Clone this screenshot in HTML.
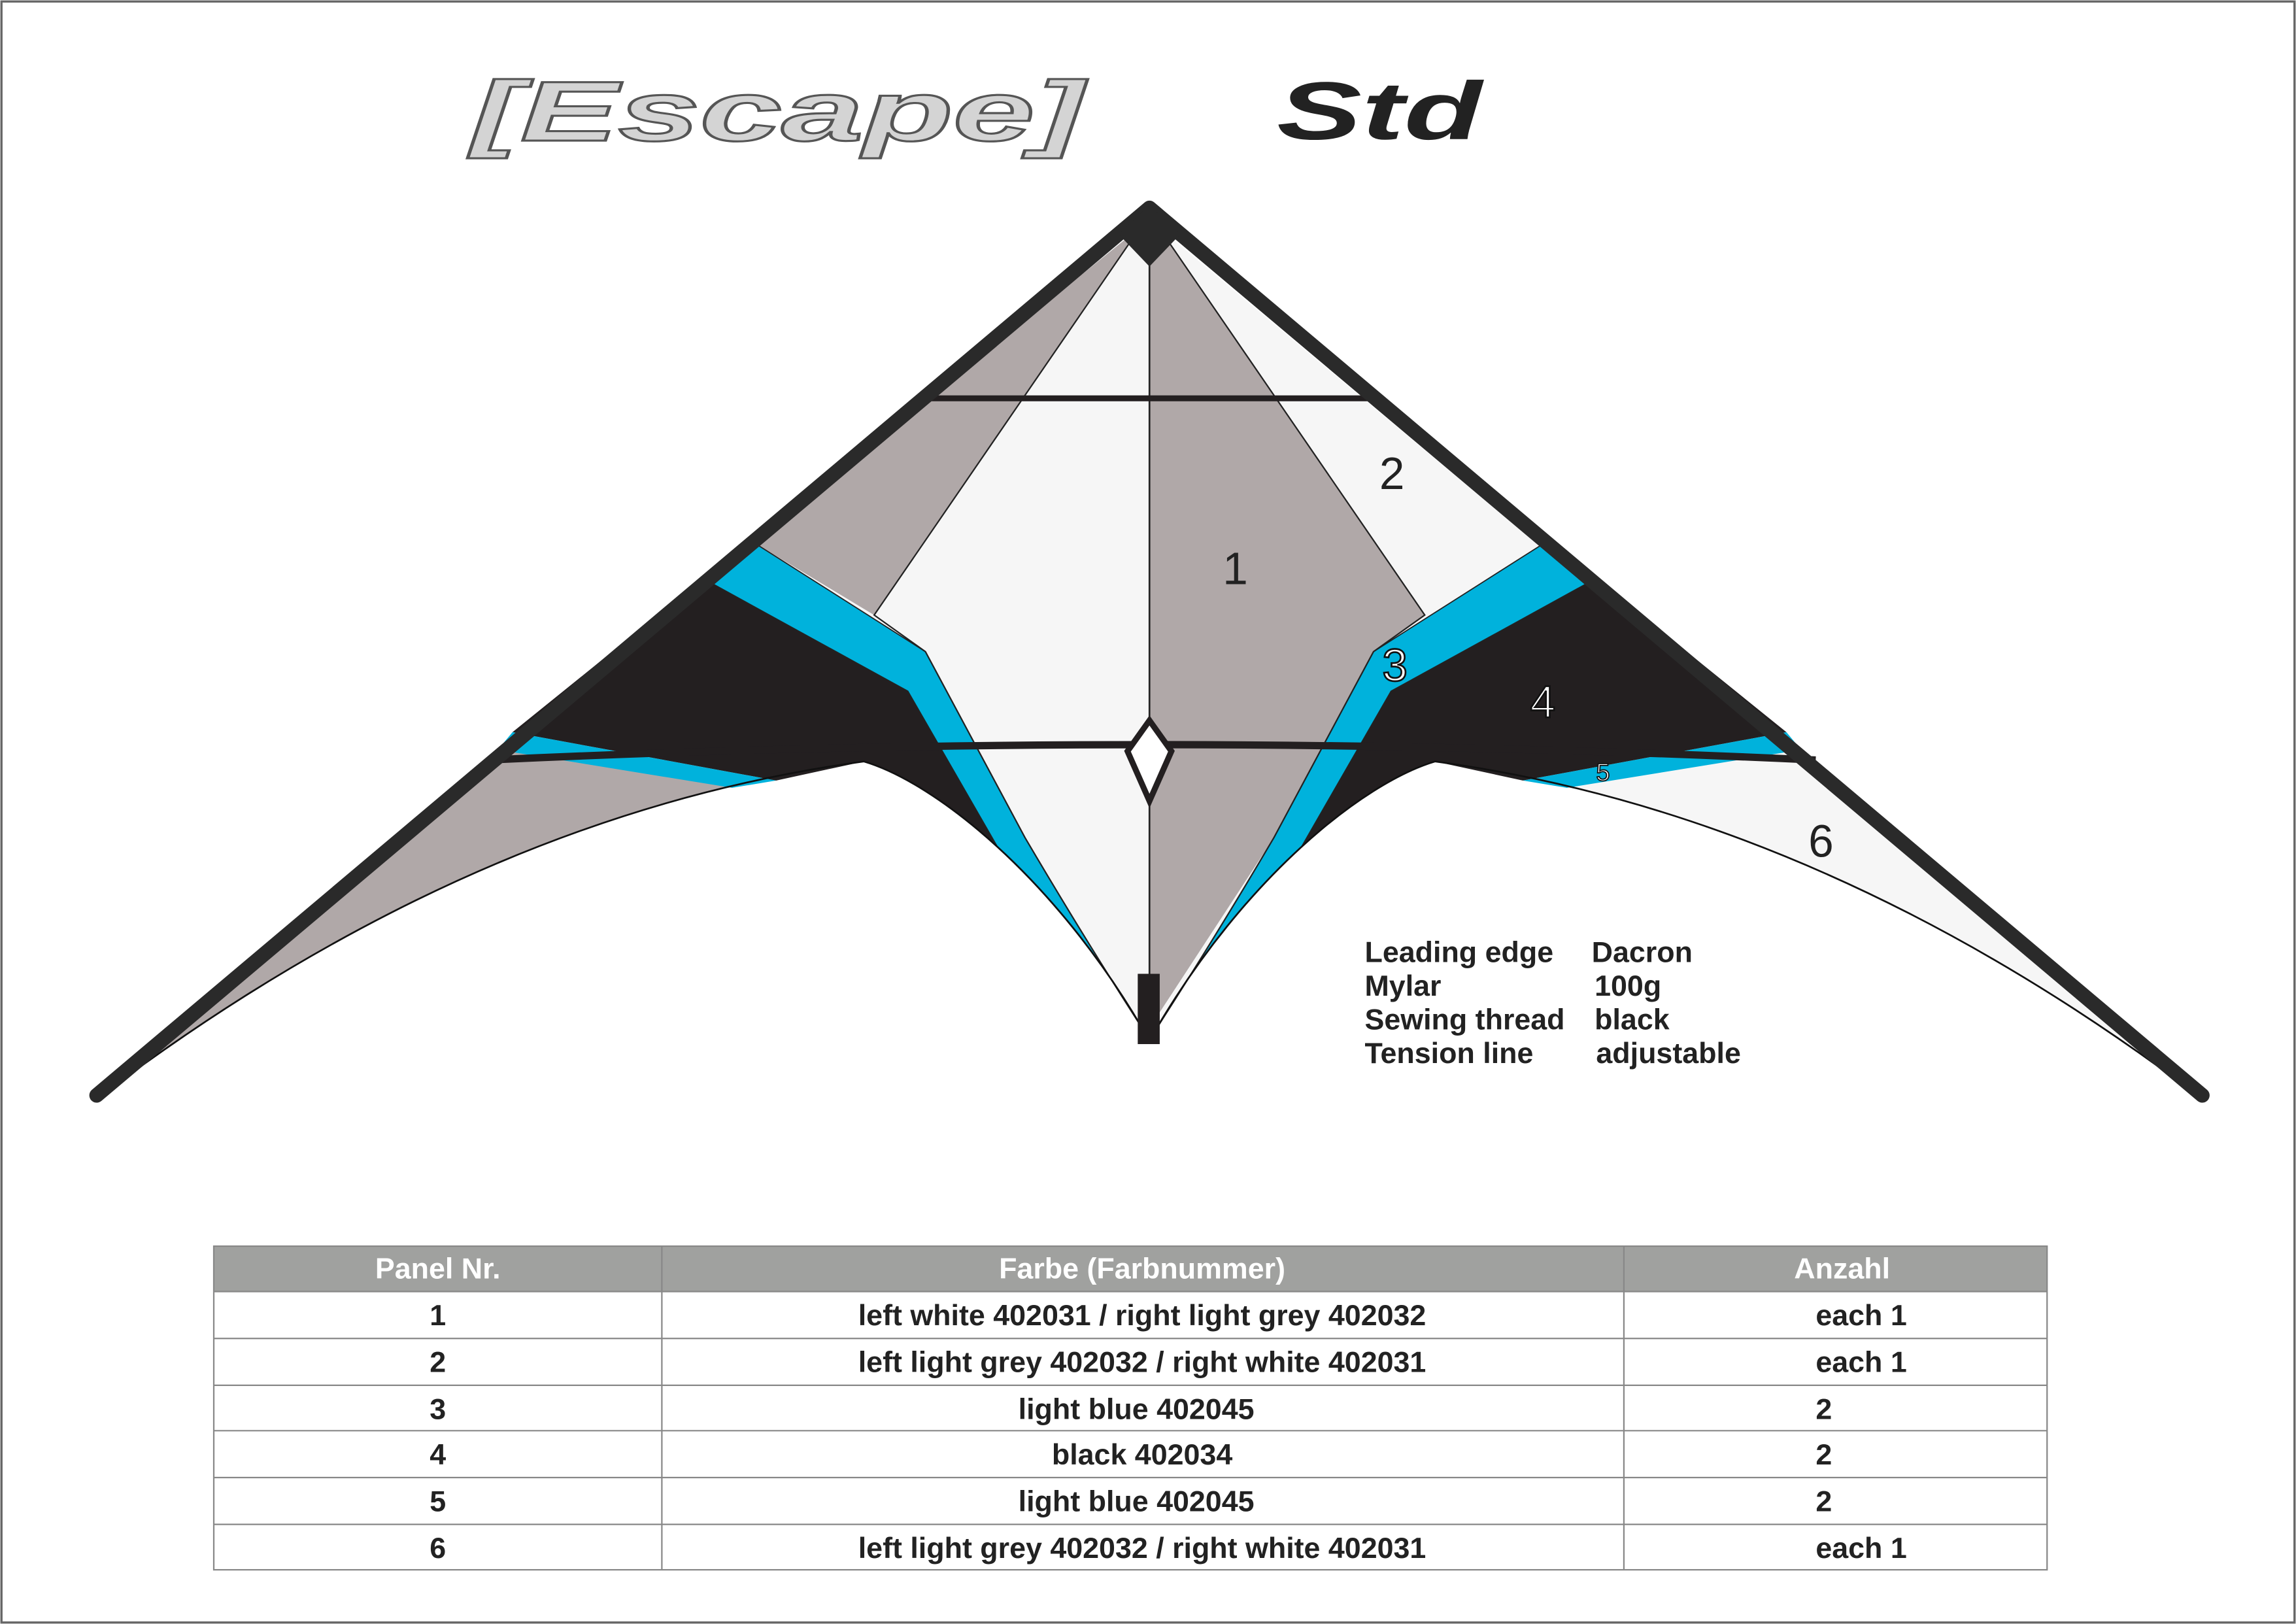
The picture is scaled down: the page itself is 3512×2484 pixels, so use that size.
<!DOCTYPE html>
<html><head><meta charset="utf-8">
<style>
html,body{margin:0;padding:0;background:#fff;}
svg{display:block;}
text{font-family:"Liberation Sans",sans-serif;}
</style></head>
<body>
<svg width="3512" height="2484" viewBox="0 0 1568 1109" xmlns="http://www.w3.org/2000/svg">
<rect x="0" y="0" width="1568" height="1109" fill="#fff"/>
<rect x="1" y="1" width="1566" height="1107" fill="none" stroke="#666" stroke-width="1.5"/>

<!-- Title -->
<text x="322" y="96" font-size="58" font-weight="bold" font-style="italic" fill="#d4d4d4" stroke="#555" stroke-width="1.4" textLength="418" lengthAdjust="spacingAndGlyphs">[Escape]</text>
<text x="872" y="95" font-size="56" font-weight="bold" font-style="italic" fill="#222" textLength="140" lengthAdjust="spacingAndGlyphs">Std</text>

<!-- Sail base -->
<path d="M785,150 L80,740 Q330,555 590,520 C640,535 720,600 780,702 L790,702 C850,600 930,535 980,520 Q1240,555 1490,740 Z" fill="#f6f6f6"/>

<!-- Left panel 2 grey -->
<polygon points="785,150 514,370 597,420 772,165" fill="#b0a8a8"/>
<!-- Right panel 1 grey -->
<polygon points="785,150 798,165 973,420 938,445 870,572 785,702" fill="#b0a8a8"/>
<!-- Left panel 6 grey -->
<path d="M340,512 L530,533 L590,520 Q330,555 80,740 Z" fill="#b0a8a8"/>

<g id="half">
  <path d="M480,395 L620,472 L681,578 C647.5,547.5 615,527.5 590,520 L530,533 L350,500 Z" fill="#231f20"/>
  <path d="M514,370 L632,445 L700,572 Q740,640 780,702 C750,651 715,609 681,578 L620,472 L480,395 Z" fill="#00b2dc"/>
  <polygon points="350,500 530,533 500,538 340,512" fill="#00b2dc"/>
  <path d="M772,165 L597,420 L632,445 L700,572 Q740,640 780,702" fill="none" stroke="#222" stroke-width="1"/>
  <path d="M514,370 L632,445 M480,395 L620,472 L681,578" fill="none" stroke="#222" stroke-width="0.8"/>
</g>
<g transform="translate(1570,0) scale(-1,1)">
  <path d="M480,395 L620,472 L681,578 C647.5,547.5 615,527.5 590,520 L530,533 L350,500 Z" fill="#231f20"/>
  <path d="M514,370 L632,445 L700,572 Q740,640 780,702 C750,651 715,609 681,578 L620,472 L480,395 Z" fill="#00b2dc"/>
  <polygon points="350,500 530,533 500,538 340,512" fill="#00b2dc"/>
  <path d="M772,165 L597,420 L632,445 L700,572 Q740,640 780,702" fill="none" stroke="#222" stroke-width="1"/>
  <path d="M514,370 L632,445 M480,395 L620,472 L681,578" fill="none" stroke="#222" stroke-width="0.8"/>
</g>

<!-- trailing edge -->
<path d="M80,740 Q330,555 590,520 C640,535 720,600 780,702 M790,702 C850,600 930,535 980,520 Q1240,555 1490,740" fill="none" stroke="#111" stroke-width="1.2"/>

<!-- spine -->
<line x1="785" y1="150" x2="785" y2="705" stroke="#222" stroke-width="1.2"/>
<rect x="777" y="665" width="15" height="48" fill="#231f20"/>

<!-- spreaders -->
<line x1="626" y1="272" x2="943" y2="272" stroke="#231f20" stroke-width="4"/>
<path d="M333,519 Q785,498 1240,519" fill="none" stroke="#231f20" stroke-width="5"/>

<!-- center diamond -->
<polygon points="785,492 800,513 785,547 770,513" fill="#fff" stroke="#231f20" stroke-width="4"/>

<!-- leading edges -->
<path d="M66,748 L785,142 L1504,748" fill="none" stroke="#2a2a2a" stroke-width="10" stroke-linecap="round" stroke-linejoin="round"/>
<polygon points="785,140 764,160 785,182 806,160" fill="#2a2a2a"/>

<!-- panel labels -->
<text x="835" y="399" font-size="31" fill="#222">1</text>
<text x="942" y="334" font-size="31" fill="#222">2</text>
<text x="944" y="465" font-size="31" fill="#fff" stroke="#111" stroke-width="1.2">3</text>
<text x="1045" y="490" font-size="31" fill="#fff" stroke="#111" stroke-width="1.2">4</text>
<text x="1090" y="533" font-size="17" fill="#fff" stroke="#111" stroke-width="0.8">5</text>
<text x="1235" y="585" font-size="31" fill="#222">6</text>

<!-- specs -->
<g font-size="20" font-weight="bold" fill="#222">
<text x="932" y="657">Leading edge</text><text x="1087" y="657">Dacron</text>
<text x="932" y="680">Mylar</text><text x="1089" y="680">100g</text>
<text x="932" y="703">Sewing thread</text><text x="1089" y="703">black</text>
<text x="932" y="726">Tension line</text><text x="1090" y="726">adjustable</text>
</g>

<!-- table -->
<rect x="146" y="851" width="1252" height="31" fill="#a0a19f"/>
<g font-size="20" font-weight="bold">
<text x="299" y="873" fill="#fff" text-anchor="middle">Panel Nr.</text>
<text x="780" y="873" fill="#fff" text-anchor="middle">Farbe (Farbnummer)</text>
<text x="1258" y="873" fill="#fff" text-anchor="middle">Anzahl</text>
</g>
<g fill="none" stroke="#888" stroke-width="1">
<rect x="146" y="851" width="1252" height="221"/>
<line x1="146" y1="882" x2="1398" y2="882"/>
<line x1="146" y1="914" x2="1398" y2="914"/>
<line x1="146" y1="946" x2="1398" y2="946"/>
<line x1="146" y1="977" x2="1398" y2="977"/>
<line x1="146" y1="1009" x2="1398" y2="1009"/>
<line x1="146" y1="1041" x2="1398" y2="1041"/>
<line x1="452" y1="851" x2="452" y2="1072"/>
<line x1="1109" y1="851" x2="1109" y2="1072"/>
</g>
<g font-size="20" font-weight="bold" fill="#222">
<text x="299" y="905" text-anchor="middle">1</text>
<text x="780" y="905" text-anchor="middle">left white 402031 / right light grey 402032</text>
<text x="1240" y="905">each 1</text>
<text x="299" y="937" text-anchor="middle">2</text>
<text x="780" y="937" text-anchor="middle">left light grey 402032 / right white 402031</text>
<text x="1240" y="937">each 1</text>
<text x="299" y="969" text-anchor="middle">3</text>
<text x="776" y="969" text-anchor="middle">light blue 402045</text>
<text x="1240" y="969">2</text>
<text x="299" y="1000" text-anchor="middle">4</text>
<text x="780" y="1000" text-anchor="middle">black 402034</text>
<text x="1240" y="1000">2</text>
<text x="299" y="1032" text-anchor="middle">5</text>
<text x="776" y="1032" text-anchor="middle">light blue 402045</text>
<text x="1240" y="1032">2</text>
<text x="299" y="1064" text-anchor="middle">6</text>
<text x="780" y="1064" text-anchor="middle">left light grey 402032 / right white 402031</text>
<text x="1240" y="1064">each 1</text>
</g>
</svg>
</body></html>
